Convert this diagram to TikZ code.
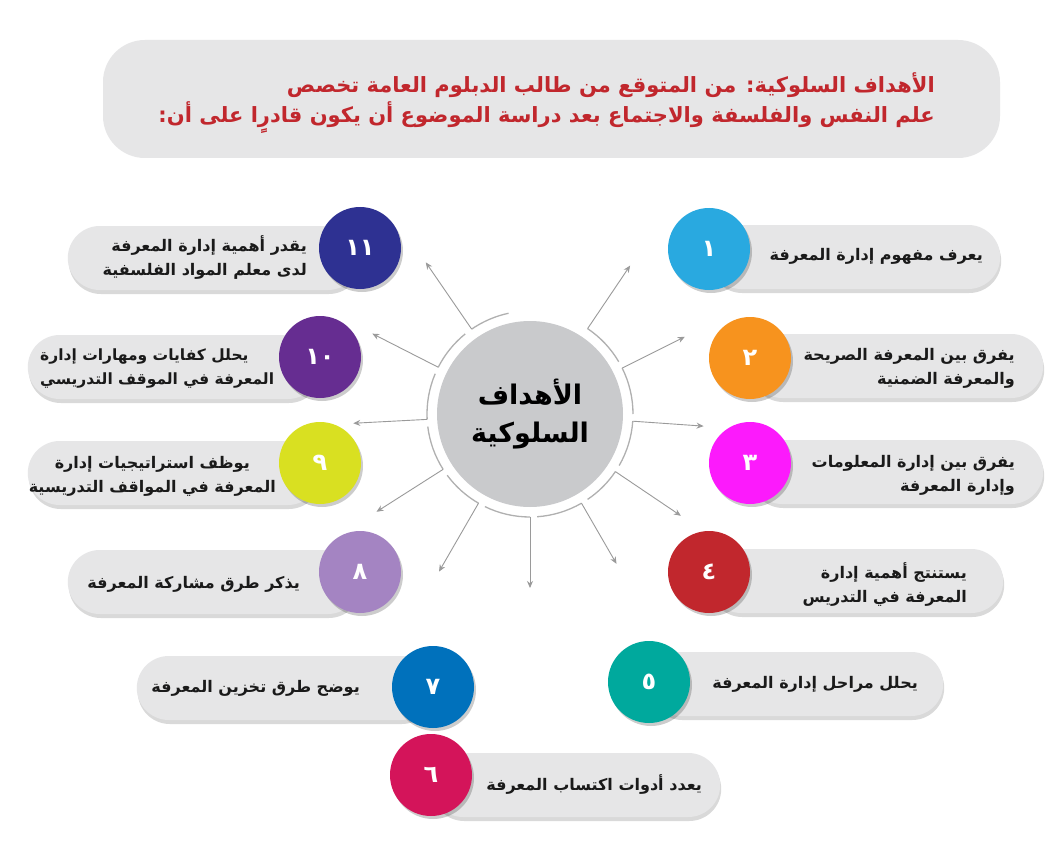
\documentclass[tikz,border=0pt]{standalone}
\usepackage{fontspec}
\newfontfamily\arabicfont[Script=Arabic]{DejaVu Sans}
\TeXXeTstate=1
\usetikzlibrary{calc,shadows,arrows.meta}
\definecolor{pillgray}{HTML}{E6E6E7}
\definecolor{centergray}{HTML}{C9CACC}
\definecolor{ringgray}{HTML}{B0B0B0}
\definecolor{arrgray}{HTML}{9A9A9A}
\definecolor{hdrred}{HTML}{C1272D}
\definecolor{textdark}{HTML}{1A1A1A}
\definecolor{cA}{HTML}{29A9E0}
\definecolor{cB}{HTML}{F7931E}
\definecolor{cC}{HTML}{FC1AFC}
\definecolor{cD}{HTML}{C1272D}
\definecolor{cE}{HTML}{00A99D}
\definecolor{cF}{HTML}{D4145A}
\definecolor{cG}{HTML}{0071BC}
\definecolor{cH}{HTML}{A484C2}
\definecolor{cI}{HTML}{D9E021}
\definecolor{cJ}{HTML}{662D91}
\definecolor{cK}{HTML}{2E3192}
\tikzset{
  pill/.style={fill=pillgray, rounded corners=32pt, minimum height=64pt, inner sep=0pt,
    drop shadow={shadow xshift=1pt, shadow yshift=-4pt, opacity=0.15, fill=black}},
  numdisc/.style={circle, minimum size=82pt, inner sep=0pt, text=white,
    font=\arabicfont\bfseries\fontsize{24}{24}\selectfont,
    drop shadow={shadow xshift=2pt, shadow yshift=-3pt, opacity=0.2, fill=black}},
  itemtext/.style={inner sep=0pt, text=textdark, font=\arabicfont\bfseries\fontsize{16}{24}\selectfont},
  ringarc/.style={draw=ringgray, line width=1.3pt},
  ray/.style={draw=arrgray, line width=0.9pt, -{Stealth[length=7pt,width=6pt]}},
}
\begin{document}
\begin{tikzpicture}[x=1pt,y=-1pt]
\useasboundingbox (0,0) rectangle (1061,848);
\fill[white] (0,0) rectangle (1061,848);

% header
\node[fill=pillgray, rounded corners=42pt, minimum width=897pt, minimum height=118pt, inner sep=0pt] (hdr) at (551.5,99) {};
\node[anchor=east, align=right, inner sep=0pt, text=hdrred,
  font=\arabicfont\bfseries\fontsize{21}{30}\selectfont] (hdrtext) at (935,103)
  {\beginR الأهداف السلوكية:  من المتوقع من طالب الدبلوم العامة تخصص\endR\\
   \beginR علم النفس والفلسفة والاجتماع بعد دراسة الموضوع أن يكون قادرٍا على أن:\endR};

% center
\node[circle, fill=centergray, minimum size=186pt, inner sep=0pt] (c) at (530,414) {};
\node[align=center, inner sep=0pt, text=black, font=\arabicfont\bfseries\fontsize{27}{38}\selectfont] (ctext) at (530,414)
  {\beginR الأهداف\endR\\\beginR السلوكية\endR};

% ring arcs
\foreach \a/\b in {-86/-60,-56/-34,-30/-4,0/26.5,30.5/56,102/124.5,129/153,157/183,187/212.5,216.5/240,244/270}{
  \draw[ringarc] ($(c)+(\a:103pt)$) arc[start angle=\a, end angle=\b, radius=103pt];
}

% rays
\foreach \n/\a/\r in {1/56/179,2/26.5/173,3/-4/174,4/-34/182,5/-60/173,6/-90/174,7/-120/182,8/-147.5/182,9/-177/177,10/153/177,11/124.5/184}{
  \coordinate (s\n) at ($(c)+(\a:103pt)$);
  \coordinate (e\n) at ($(c)+(\a:\r pt)$);
  \draw[ray] (s\n) -- (e\n);
}

% right items
\node[pill, minimum width=291pt, anchor=west] (p1) at (709,257) {};
\node[numdisc, fill=cA] (n1) at (709,249) {١};
\node[itemtext, anchor=east] (t1) at (983,256) {\beginR يعرف مفهوم إدارة المعرفة\endR};

\node[pill, minimum width=293pt, anchor=west] (p2) at (750,366) {};
\node[numdisc, fill=cB] (n2) at (750,358) {٢};
\node[itemtext, anchor=east, align=right] (t2) at (1015,368) {\beginR يفرق بين المعرفة الصريحة\endR\\\beginR والمعرفة الضمنية\endR};

\node[pill, minimum width=293pt, anchor=west] (p3) at (750,472) {};
\node[numdisc, fill=cC] (n3) at (750,463) {٣};
\node[itemtext, anchor=east, align=right] (t3) at (1015,475) {\beginR يفرق بين إدارة المعلومات\endR\\\beginR وإدارة المعرفة\endR};

\node[pill, minimum width=294pt, anchor=west] (p4) at (709,581) {};
\node[numdisc, fill=cD] (n4) at (709,572) {٤};
\node[itemtext, anchor=east, align=right] (t4) at (967,585) {\beginR يستنتج أهمية إدارة\endR\\\beginR المعرفة في التدريس\endR};

\node[pill, minimum width=294pt, anchor=west] (p5) at (649,684) {};
\node[numdisc, fill=cE] (n5) at (649,682) {٥};
\node[itemtext, anchor=east] (t5) at (918,684) {\beginR يحلل مراحل إدارة المعرفة\endR};

% bottom item
\node[pill, minimum width=289pt, anchor=west] (p6) at (431,785) {};
\node[numdisc, fill=cF] (n6) at (431,775) {٦};
\node[itemtext, anchor=east] (t6) at (702,785) {\beginR يعدد أدوات اكتساب المعرفة\endR};

% left items
\node[pill, minimum width=296pt, anchor=east] (p7) at (433,688) {};
\node[numdisc, fill=cG] (n7) at (433,687) {٧};
\node[itemtext, anchor=east] (t7) at (360,688) {\beginR يوضح طرق تخزين المعرفة\endR};

\node[pill, minimum width=292pt, anchor=east] (p8) at (360,582) {};
\node[numdisc, fill=cH] (n8) at (360,572) {٨};
\node[itemtext, anchor=east] (t8) at (300,584) {\beginR يذكر طرق مشاركة المعرفة\endR};

\node[pill, minimum width=292pt, anchor=east] (p9) at (320,473) {};
\node[numdisc, fill=cI] (n9) at (320,463) {٩};
\node[itemtext, anchor=east, align=center] (t9) at (276,476) {\beginR يوظف استراتيجيات إدارة\endR\\\beginR المعرفة في المواقف التدريسية\endR};

\node[pill, minimum width=292pt, anchor=east] (p10) at (320,367) {};
\node[numdisc, fill=cJ] (n10) at (320,357) {١٠};
\node[itemtext, anchor=west, align=left, font=\arabicfont\bfseries\fontsize{15.5}{24}\selectfont] (t10) at (40,369) {\beginR يحلل كفايات ومهارات إدارة\endR\\\beginR المعرفة في الموقف التدريسي\endR};

\node[pill, minimum width=292pt, anchor=east] (p11) at (360,258) {};
\node[numdisc, fill=cK] (n11) at (360,248) {١١};
\node[itemtext, anchor=east, align=right] (t11) at (307,258) {\beginR يقدر أهمية إدارة المعرفة\endR\\\beginR لدى معلم المواد الفلسفية\endR};
\end{tikzpicture}
\end{document}
